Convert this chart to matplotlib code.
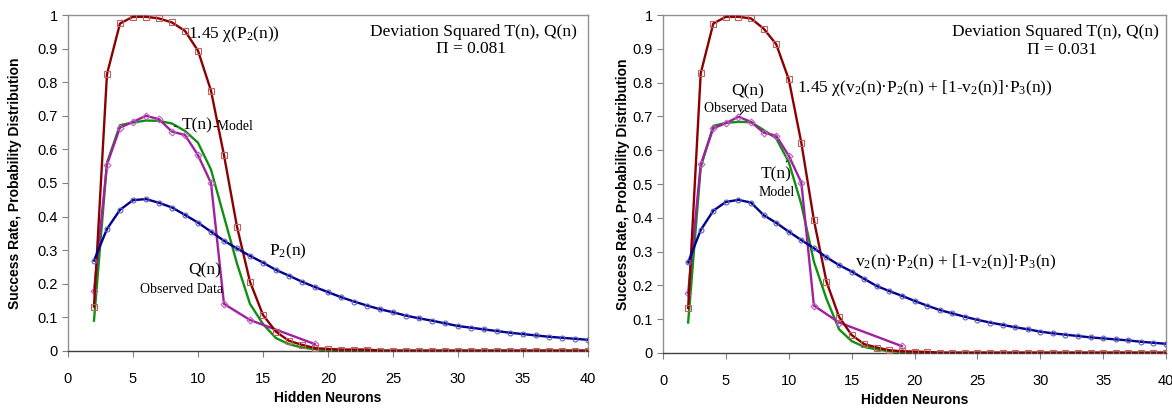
import matplotlib
matplotlib.use('Agg')
import matplotlib.pyplot as plt
from matplotlib.ticker import MultipleLocator, FormatStrFormatter

plt.rcParams['font.family'] = ['Liberation Sans', 'DejaVu Sans']
plt.rcParams['mathtext.fontset'] = 'custom'
plt.rcParams['mathtext.rm'] = 'Liberation Serif'
plt.rcParams['mathtext.it'] = 'Liberation Serif:italic'

# hidden neuron counts
neurons = list(range(2, 41))
q_neurons = [2, 3, 4, 5, 6, 7, 8, 9, 10, 11, 12, 14, 19]

# left panel: single distribution P2(n)
chi_left = [0.132, 0.824, 0.975, 0.995, 0.995, 0.99, 0.978, 0.953, 0.894, 0.775,
            0.583, 0.37, 0.206, 0.107, 0.057, 0.03, 0.018, 0.008, 0.006, 0.004,
            0.004, 0.004] + [0.001] * 17
model_left = [0.09, 0.56, 0.672, 0.68, 0.686, 0.685, 0.677, 0.655, 0.62, 0.54,
              0.40, 0.26, 0.14, 0.08, 0.038, 0.02, 0.01, 0.005, 0.002, 0.001,
              0.0] + [0.0] * 18
observed_left = [0.177, 0.555, 0.665, 0.682, 0.70, 0.69, 0.653, 0.643, 0.583,
                 0.50, 0.14, 0.092, 0.02]
p2_left = [0.269, 0.363, 0.42, 0.449, 0.452, 0.441, 0.427, 0.405, 0.382, 0.355,
           0.328, 0.305, 0.283, 0.263, 0.241, 0.224, 0.206, 0.19, 0.175, 0.16,
           0.147, 0.135, 0.124, 0.115, 0.105, 0.097, 0.09, 0.082, 0.074, 0.069,
           0.064, 0.059, 0.054, 0.05, 0.046, 0.042, 0.039, 0.036, 0.033]

# right panel: mixture v2*P2 + (1-v2)*P3
chi_right = [0.133, 0.828, 0.975, 0.995, 0.995, 0.99, 0.96, 0.914, 0.81, 0.622,
             0.393, 0.211, 0.107, 0.053, 0.026, 0.016, 0.008, 0.005, 0.004,
             0.003] + [0.001] * 19
model_right = [0.09, 0.55, 0.672, 0.681, 0.684, 0.683, 0.66, 0.635, 0.565, 0.44,
               0.27, 0.16, 0.07, 0.035, 0.018, 0.01, 0.005, 0.003, 0.001] + [0.0] * 20
observed_right = [0.177, 0.558, 0.665, 0.68, 0.699, 0.684, 0.652, 0.643, 0.584,
                  0.504, 0.14, 0.09, 0.02]
mix_right = [0.268, 0.364, 0.421, 0.447, 0.453, 0.445, 0.408, 0.385, 0.359, 0.334,
             0.31, 0.283, 0.26, 0.241, 0.219, 0.198, 0.183, 0.169, 0.154, 0.14,
             0.127, 0.117, 0.107, 0.098, 0.09, 0.083, 0.076, 0.07, 0.063, 0.058,
             0.054, 0.05, 0.046, 0.043, 0.04, 0.037, 0.033, 0.03, 0.027]

deviation_left = 0.081
deviation_right = 0.031

SERIF = 'Liberation Serif'


def draw_series(ax, chi, model, observed, dist):
    ax.plot(neurons, model, color='#109010', lw=1.7, zorder=2)
    ax.plot(q_neurons, observed, color='#A020A0', lw=1.7, marker='D', ms=3.5,
            mfc='none', mec='#C060C0', mew=0.8, zorder=3)
    ax.plot(neurons, chi, color='#8B0000', lw=1.7, marker='s', ms=4,
            mfc='none', mec='#C06060', mew=0.8, zorder=4)
    ax.plot(neurons, dist, color='#000090', lw=1.7, marker='o', ms=3.5,
            mfc='none', mec='#6060C0', mew=0.8, zorder=5)


def style_axes(ax, ylabel_x):
    ax.set_xlim(0, 40)
    ax.set_ylim(0, 1)
    ax.xaxis.set_major_locator(MultipleLocator(5))
    ax.yaxis.set_major_locator(MultipleLocator(0.1))
    ax.yaxis.set_major_formatter(FormatStrFormatter('%g'))
    ax.tick_params(axis='both', direction='out', length=4, width=0.8,
                   color='#808080', labelsize=10.5)
    ax.tick_params(axis='x', pad=11)
    for side in ['top', 'right', 'left']:
        ax.spines[side].set_color('#909090')
        ax.spines[side].set_linewidth(1.0)
    ax.spines['bottom'].set_color('#404040')
    ax.spines['bottom'].set_linewidth(1.0)
    ax.set_xlabel('Hidden Neurons', fontsize=10, fontweight='bold', labelpad=4)
    ax.set_ylabel('Success Rate, Probability Distribution', fontsize=10,
                  fontweight='bold')
    ax.yaxis.set_label_coords(ylabel_x, 0.5)


fig = plt.figure(figsize=(11.72, 4.08), dpi=100)

# ---- left panel ----
ax1 = fig.add_axes([0.058, 0.14, 0.4437, 0.823])
draw_series(ax1, chi_left, model_left, observed_left, p2_left)
style_axes(ax1, -0.088)
ax1.text(9.25, 0.943, r'1.45 χ(P$_2$(n))', family=SERIF, fontsize=12.5, va='center')
ax1.annotate('T(n)', xy=(8.0, 0.668), xytext=(8.75, 0.673), family=SERIF,
             fontsize=12.5, va='center', arrowprops=dict(arrowstyle='-', lw=0.8))
ax1.text(11.1, 0.668, '-Model', family=SERIF, fontsize=10, va='center')
ax1.text(9.25, 0.241, 'Q(n)', family=SERIF, fontsize=12.5, va='center')
ax1.text(8.7, 0.184, 'Observed Data', family=SERIF, fontsize=10, va='center', ha='center')
ax1.text(15.5, 0.296, r'P$_2$(n)', family=SERIF, fontsize=12.5, va='center')
ax1.text(31.2, 0.95, 'Deviation Squared T(n), Q(n)', family=SERIF, fontsize=12.5,
         va='center', ha='center')
ax1.text(31.0, 0.90, 'Π = %.3f' % deviation_left, family=SERIF, fontsize=12.5,
         va='center', ha='center')

# ---- right panel ----
ax2 = fig.add_axes([0.5657, 0.135, 0.4292, 0.828])
draw_series(ax2, chi_right, model_right, observed_right, mix_right)
style_axes(ax2, -0.066)
ax2.text(6.7, 0.773, 'Q(n)', family=SERIF, fontsize=12.5, va='center', ha='center')
ax2.annotate('Observed Data', xy=(6.0, 0.70), xytext=(6.6, 0.724), family=SERIF,
             fontsize=10, va='center', ha='center',
             arrowprops=dict(arrowstyle='-', lw=0.8))
ax2.text(10.65, 0.783,
         r'1.45 χ(v$_2$(n)·P$_2$(n) + [1-v$_2$(n)]·P$_3$(n))',
         family=SERIF, fontsize=12.5, va='center')
ax2.annotate('T(n)', xy=(10.0, 0.575), xytext=(9.0, 0.527), family=SERIF,
             fontsize=12.5, va='center', ha='center',
             arrowprops=dict(arrowstyle='-', lw=0.8))
ax2.text(9.0, 0.474, 'Model', family=SERIF, fontsize=10, va='center', ha='center')
ax2.text(15.3, 0.268, r'v$_2$(n)·P$_2$(n) + [1-v$_2$(n)]·P$_3$(n)',
         family=SERIF, fontsize=12.5, va='center')
ax2.text(31.2, 0.95, 'Deviation Squared T(n), Q(n)', family=SERIF, fontsize=12.5,
         va='center', ha='center')
ax2.text(31.7, 0.898, 'Π = %.3f' % deviation_right, family=SERIF, fontsize=12.5,
         va='center', ha='center')

fig.savefig('out.png', dpi=100)
